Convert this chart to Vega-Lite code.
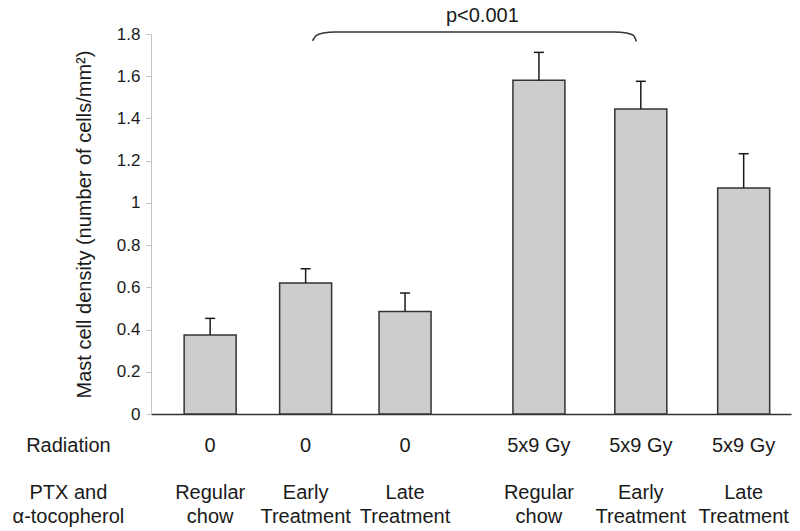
{
  "$schema": "https://vega.github.io/schema/vega-lite/v6.json",
  "width": 640,
  "height": 380,
  "autosize": "none",
  "padding": {"left": 151, "top": 34, "right": 9, "bottom": 117},
  "background": "white",
  "config": {"font": "Liberation Sans", "view": {"stroke": null}},
  "datasets": {
    "bars": [
      {"radiation": "0", "treatment": ["Regular", "chow"], "slot": 1.0, "mean": 0.374, "upper": 0.453},
      {"radiation": "0", "treatment": ["Early", "Treatment"], "slot": 1.97, "mean": 0.62, "upper": 0.688},
      {"radiation": "0", "treatment": ["Late", "Treatment"], "slot": 2.98, "mean": 0.485, "upper": 0.573},
      {"radiation": "5x9 Gy", "treatment": ["Regular", "chow"], "slot": 4.34, "mean": 1.581, "upper": 1.713},
      {"radiation": "5x9 Gy", "treatment": ["Early", "Treatment"], "slot": 5.375, "mean": 1.445, "upper": 1.576},
      {"radiation": "5x9 Gy", "treatment": ["Late", "Treatment"], "slot": 6.42, "mean": 1.071, "upper": 1.233}
    ],
    "bracket": [
      {"slot": 2.04, "y": 1.768},
      {"slot": 2.08, "y": 1.793},
      {"slot": 2.15, "y": 1.805},
      {"slot": 2.27, "y": 1.8095},
      {"slot": 5.11, "y": 1.8095},
      {"slot": 5.23, "y": 1.805},
      {"slot": 5.30, "y": 1.793},
      {"slot": 5.33, "y": 1.765}
    ],
    "rowlabels": [
      {"label": ["Radiation"], "row": "radiation"},
      {"label": ["PTX and", "α-tocopherol"], "row": "treatment"}
    ]
  },
  "layer": [
    {
      "data": {"name": "bars"},
      "mark": {"type": "bar", "width": 52, "fill": "#cdcdcd", "stroke": "#333333", "strokeWidth": 1.5},
      "encoding": {
        "x": {
          "field": "slot", "type": "quantitative",
          "scale": {"domain": [0.45, 6.85], "nice": false, "zero": false},
          "axis": {"labels": false, "ticks": false, "grid": false, "title": null, "domainColor": "#333333", "domainWidth": 1.5}
        },
        "y": {
          "field": "mean", "type": "quantitative",
          "scale": {"domain": [0, 1.8], "nice": false},
          "axis": {
            "values": [0, 0.2, 0.4, 0.6, 0.8, 1, 1.2, 1.4, 1.6, 1.8],
            "format": "~g",
            "grid": false,
            "domainColor": "#c4c4c4",
            "tickColor": "#c4c4c4",
            "tickSize": 5,
            "labelPadding": 6,
            "labelFontSize": 17,
            "labelColor": "#1a1a1a",
            "title": "Mast cell density (number of cells/mm²)",
            "titleFontSize": 20,
            "titleFontWeight": "normal",
            "titleColor": "#1a1a1a",
            "titlePadding": 22
          }
        }
      }
    },
    {
      "data": {"name": "bars"},
      "mark": {"type": "rule", "color": "#1a1a1a", "strokeWidth": 1.5},
      "encoding": {
        "x": {"field": "slot", "type": "quantitative"},
        "y": {"field": "mean", "type": "quantitative"},
        "y2": {"field": "upper"}
      }
    },
    {
      "data": {"name": "bars"},
      "mark": {"type": "tick", "orient": "horizontal", "size": 10, "thickness": 1.5, "color": "#1a1a1a", "opacity": 1},
      "encoding": {
        "x": {"field": "slot", "type": "quantitative"},
        "y": {"field": "upper", "type": "quantitative"}
      }
    },
    {
      "data": {"name": "bars"},
      "mark": {"type": "text", "fontSize": 20, "baseline": "alphabetic", "align": "center", "color": "#1a1a1a"},
      "encoding": {
        "x": {"field": "slot", "type": "quantitative"},
        "y": {"datum": -0.1786},
        "text": {"field": "radiation"}
      }
    },
    {
      "data": {"name": "bars"},
      "mark": {"type": "text", "fontSize": 20, "baseline": "alphabetic", "align": "center", "lineHeight": 24, "color": "#1a1a1a"},
      "encoding": {
        "x": {"field": "slot", "type": "quantitative"},
        "y": {"datum": -0.404},
        "text": {"field": "treatment"}
      }
    },
    {
      "data": {"name": "rowlabels"},
      "transform": [{"filter": "datum.row === 'radiation'"}],
      "mark": {"type": "text", "fontSize": 20, "baseline": "alphabetic", "align": "center", "color": "#1a1a1a"},
      "encoding": {
        "x": {"datum": -0.44},
        "y": {"datum": -0.1786},
        "text": {"field": "label"}
      }
    },
    {
      "data": {"name": "rowlabels"},
      "transform": [{"filter": "datum.row === 'treatment'"}],
      "mark": {"type": "text", "fontSize": 20, "baseline": "alphabetic", "align": "center", "lineHeight": 24, "color": "#1a1a1a"},
      "encoding": {
        "x": {"datum": -0.44},
        "y": {"datum": -0.404},
        "text": {"field": "label"}
      }
    },
    {
      "data": {"name": "bracket"},
      "mark": {"type": "line", "interpolate": "monotone", "color": "#333333", "strokeWidth": 1.5},
      "encoding": {
        "x": {"field": "slot", "type": "quantitative"},
        "y": {"field": "y", "type": "quantitative"}
      }
    },
    {
      "data": {"values": [{"label": "p<0.001"}]},
      "mark": {"type": "text", "fontSize": 20, "baseline": "alphabetic", "align": "center", "color": "#1a1a1a"},
      "encoding": {
        "x": {"datum": 3.765},
        "y": {"datum": 1.858},
        "text": {"field": "label"}
      }
    }
  ]
}
